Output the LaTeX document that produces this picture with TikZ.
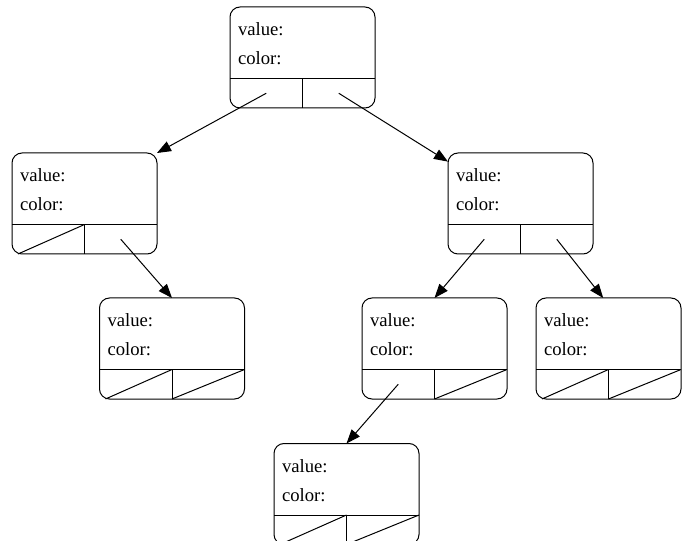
\documentclass[tikz,border=0pt]{standalone}
\usepackage{fontspec}
\setmainfont{Liberation Serif}
\usetikzlibrary{arrows.meta,calc}
\begin{document}
\begin{tikzpicture}[x=0.75pt,y=-0.75pt,line width=0.75pt,
        record/.style={draw,rounded corners=7.5pt,minimum width=108.75pt,minimum height=75.75pt,inner sep=0pt,outer sep=0pt},
        field/.style={anchor=base west,inner sep=0pt,font=\fontsize{14}{16}\selectfont},
        ptr/.style={-{Triangle[length=10.5pt,width=8pt]}}]
            \useasboundingbox (0,0) rectangle (685,541);
            \foreach \n/\x/\y in {root/302.5/57.5, L/84.5/203.5, R/520.5/203.5, LR/172/348.5, RL/434.5/348.5, RR/608.5/348.5, RLL/346.5/494}{
                \node[record] (\n) at (\x,\y) {};
                \node[field] (\n-value) at (\x-65,\y-21.5) {value:};
                \node[field] (\n-color) at (\x-65,\y+7.5) {color:};
                \draw (\x-72.5,\y+21) -- (\x+72.5,\y+21);
                \draw (\x,\y+21) -- (\x,\y+50.5);
                \coordinate (\n-l) at (\x-36.25,\y+35.75);
                \coordinate (\n-r) at (\x+36.25,\y+35.75);
            }
            % null pointers
            \foreach \n in {L,LR,RR,RLL}
                \draw ($(\n.south west)+(6,0)$) -- ($(\n.south)+(0,-29.5)$);
            \foreach \n in {LR,RL,RR,RLL}
                \draw (\n.south) -- ($(\n.south east)+(0,-29.5)$);
            \draw[ptr] (root-l) -- (L.north east);
            \draw[ptr] (root-r) -- (R.150);
            \draw[ptr] (L-r) -- (LR.north);
            \draw[ptr] (R-l) -- (RL.north);
            \draw[ptr] (R-r) -- (RR.96);
            \draw[ptr] (RL-l) -- (RLL.north);
        \end{tikzpicture}
\end{document}
